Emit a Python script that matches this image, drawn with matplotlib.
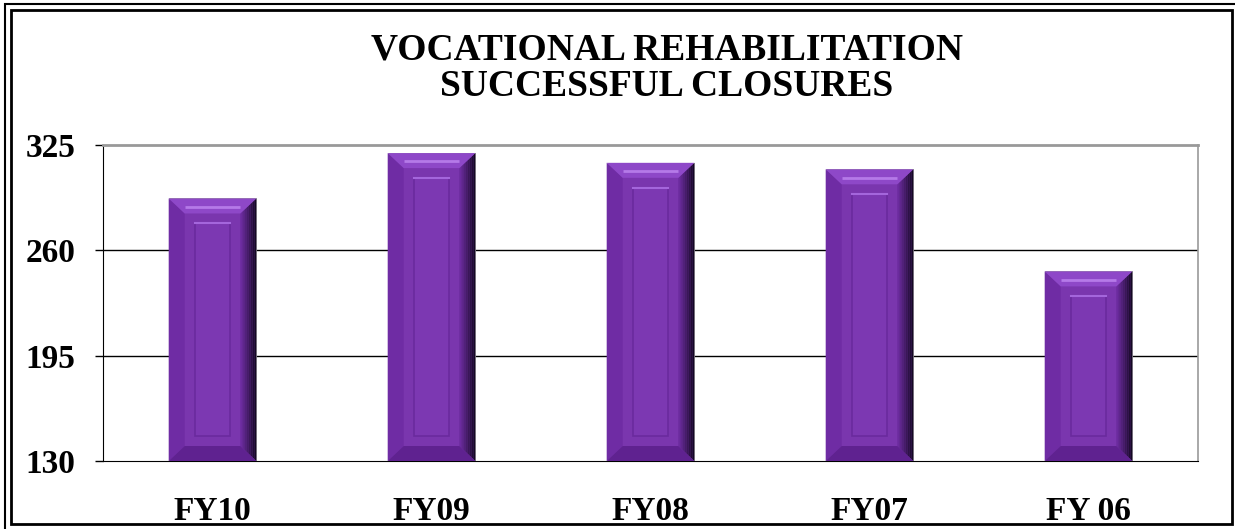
import matplotlib
matplotlib.use("Agg")
import matplotlib.pyplot as plt
from matplotlib.patches import Rectangle, Polygon
import numpy as np

categories = ["FY10", "FY09", "FY08", "FY07", "FY 06"]
closures = [292, 320, 314, 310, 247]
y_ticks = [130, 195, 260, 325]
title = "VOCATIONAL REHABILITATION\nSUCCESSFUL CLOSURES"

plt.rcParams['font.family'] = ['Liberation Serif', 'DejaVu Serif']

W, H = 1235, 529
fig = plt.figure(figsize=(W / 100, H / 100), dpi=100)
ax = fig.add_axes([103 / W, 1 - 461 / H, (1198 - 103) / W, (461 - 145) / H])

x = np.arange(len(categories))
bw = 0.4
ymin, ymax = y_ticks[0], y_ticks[-1]
ax.set_xlim(-0.5, len(categories) - 0.5)
ax.set_ylim(ymin, ymax)

bars = ax.bar(x, np.array(closures) - ymin, bottom=ymin, width=bw,
              color="#7a36ae", edgecolor="#9a9a9a", linewidth=0.6, zorder=3)

# bevel sizes: convert pixel sizes to data units
px_x = len(categories) / (1198 - 103)
px_y = (ymax - ymin) / (461 - 145)
bx, by = 16 * px_x, 15 * px_y
ix, iy = 10 * px_x, 10 * px_y

for b in bars:
    x0 = b.get_x()
    x1 = x0 + b.get_width()
    y0 = b.get_y()
    y1 = y0 + b.get_height()
    # left bevel
    ax.add_patch(Polygon([(x0, y0), (x0, y1), (x0 + bx, y1 - by), (x0 + bx, y0 + by)],
                         closed=True, fc="#6f2ca4", ec="none", zorder=4))
    # right bevel, darkening towards the edge
    n = 8
    cols = np.linspace([0.42, 0.17, 0.62], [0.08, 0.03, 0.14], n)
    for k in range(n):
        xa = x1 - bx + bx * k / n
        xb = x1 - bx + bx * (k + 1) / n
        ya_t = y1 - by + by * k / n
        yb_t = y1 - by + by * (k + 1) / n
        ya_b = y0 + by - by * k / n
        yb_b = y0 + by - by * (k + 1) / n
        ax.add_patch(Polygon([(xa, ya_b), (xa, ya_t), (xb, yb_t), (xb, yb_b)],
                             closed=True, fc=cols[k], ec="none", zorder=4))
    # top bevel
    ax.add_patch(Polygon([(x0, y1), (x1, y1), (x1 - bx, y1 - by), (x0 + bx, y1 - by)],
                         closed=True, fc="#8e48c8", ec="none", zorder=5))
    ax.plot([x0 + bx, x1 - bx], [y1 - by * 0.55, y1 - by * 0.55], color="#b57ae8",
            lw=2, zorder=6, solid_capstyle="butt")
    # bottom bevel
    ax.add_patch(Polygon([(x0, y0), (x1, y0), (x1 - bx, y0 + by), (x0 + bx, y0 + by)],
                         closed=True, fc="#5f2290", ec="none", zorder=5))
    # inner panel
    ax.add_patch(Rectangle((x0 + bx + ix, y0 + by + iy), (x1 - x0) - 2 * (bx + ix),
                           (y1 - y0) - 2 * (by + iy), fc="#7c38b2", ec="#6a2a9e",
                           lw=1.2, zorder=6))
    ax.plot([x0 + bx + ix, x1 - bx - ix], [y1 - by - iy, y1 - by - iy],
            color="#a466dc", lw=1.5, zorder=7)

for t in y_ticks[1:-1]:
    ax.axhline(t, color="black", lw=1, zorder=1)

ax.spines['left'].set_color("black")
ax.spines['bottom'].set_color("black")
ax.spines['top'].set_color("#999999")
ax.spines['top'].set_linewidth(2)
ax.spines['right'].set_color("#999999")
ax.spines['right'].set_linewidth(1.2)

ax.set_yticks(y_ticks)
ax.set_yticklabels([str(t) for t in y_ticks], fontsize=24, fontweight="bold")
ax.tick_params(axis='y', length=6, width=1, pad=14)
ax.set_xticks(x)
ax.set_xticklabels(categories, fontsize=24, fontweight="bold")
ax.tick_params(axis='x', length=0, pad=25)

fig.text(667 / W, 1 - 68 / H, title, ha="center", va="center", fontsize=27,
         fontweight="bold", linespacing=1.05)

# double frame (outer one runs past the right and bottom edges, as in the original)
fig.patches.append(Rectangle((5 / W, -10 / H), 1 + 10 / W, 1 + 6 / H, transform=fig.transFigure,
                             fill=False, ec="black", lw=1.5))
fig.patches.append(Rectangle((11 / W, 5 / H), 1 - 14 / W, 1 - 15 / H, transform=fig.transFigure,
                             fill=False, ec="black", lw=2))

fig.savefig("out.png", dpi=100)
